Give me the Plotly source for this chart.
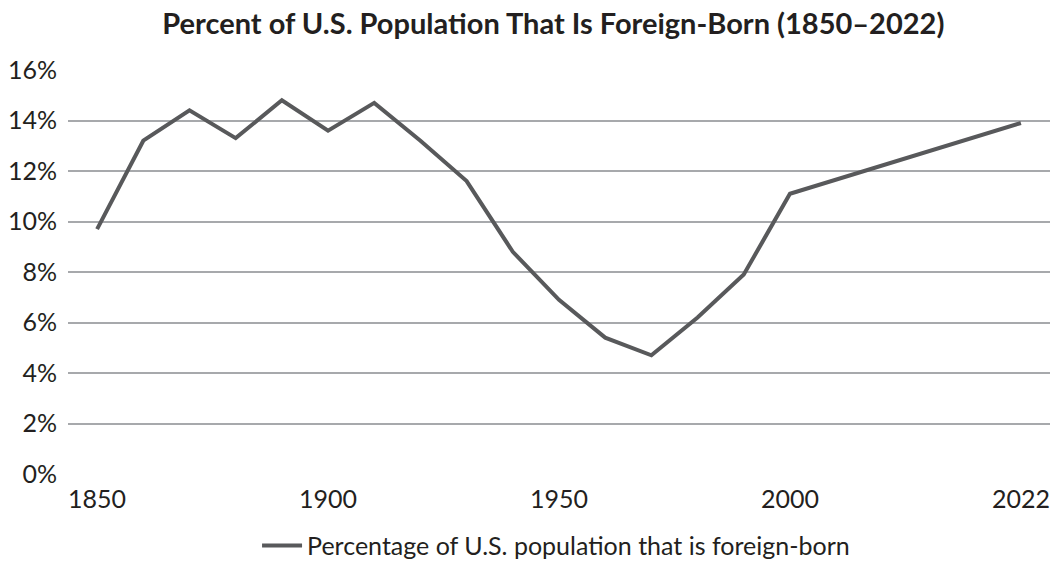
import plotly.graph_objects as go

# Census years with a value, and the share of the population born abroad (%)
years = ["1850", "1860", "1870", "1880", "1890", "1900", "1910", "1920", "1930",
         "1940", "1950", "1960", "1970", "1980", "1990", "2000", "2022"]
foreign_born_pct = [9.7, 13.2, 14.4, 13.3, 14.8, 13.6, 14.7, 13.2, 11.6,
                    8.8, 6.9, 5.4, 4.7, 6.2, 7.9, 11.1, 13.9]

# Category slots along the x axis (empty slots between 2000 and 2022)
x_slots = ["1850", "1860", "1870", "1880", "1890", "1900", "1910", "1920", "1930",
           "1940", "1950", "1960", "1970", "1980", "1990", "2000",
           "2005", "2010", "2015", "2020", "2022"]
x_tick_labels = ["1850", "1900", "1950", "2000", "2022"]

y_ticks = [0, 2, 4, 6, 8, 10, 12, 14, 16]

TEXT = "#231f20"
LINE = "#58595b"
GRID = "#a7a9ac"
FONT = "Lato"

fig = go.Figure()
fig.add_trace(go.Scatter(
    x=years,
    y=foreign_born_pct,
    mode="lines",
    name="Percentage of U.S. population that is foreign-born",
    line=dict(color=LINE, width=4),
    connectgaps=True,
))

fig.update_layout(
    width=1054,
    height=561,
    margin=dict(l=68, r=4, t=70, b=87, autoexpand=False),
    paper_bgcolor="white",
    plot_bgcolor="white",
    font=dict(family=FONT, color=TEXT, size=25),
    title=dict(
        text="<b>Percent of U.S. Population That Is Foreign-Born (1850–2022)</b>",
        x=0.525, xanchor="center",
        yref="container", y=0.958, yanchor="middle",
        font=dict(family=FONT, size=29, color=TEXT),
    ),
    showlegend=True,
    legend=dict(
        orientation="h", x=0.497, xanchor="center",
        yref="container", y=0.027, yanchor="middle",
        font=dict(family=FONT, size=25, color=TEXT),
        itemwidth=40,
    ),
    xaxis=dict(
        type="category",
        categoryorder="array",
        categoryarray=x_slots,
        range=[-0.63, 20.63],
        tickmode="array",
        tickvals=x_tick_labels,
        ticktext=x_tick_labels,
        showgrid=False,
        showline=False,
        zeroline=False,
        ticks="",
        ticklabelstandoff=8,
        tickfont=dict(family=FONT, size=25, color=TEXT),
    ),
    yaxis=dict(
        range=[0, 16],
        tickmode="array",
        tickvals=y_ticks,
        ticktext=[f"{v}%" for v in y_ticks],
        showgrid=True,
        gridcolor=GRID,
        gridwidth=1.5,
        zeroline=False,
        showline=False,
        ticks="",
        ticklabelstandoff=10,
        tickfont=dict(family=FONT, size=25, color=TEXT),
    ),
)

fig.write_html("out.html")
